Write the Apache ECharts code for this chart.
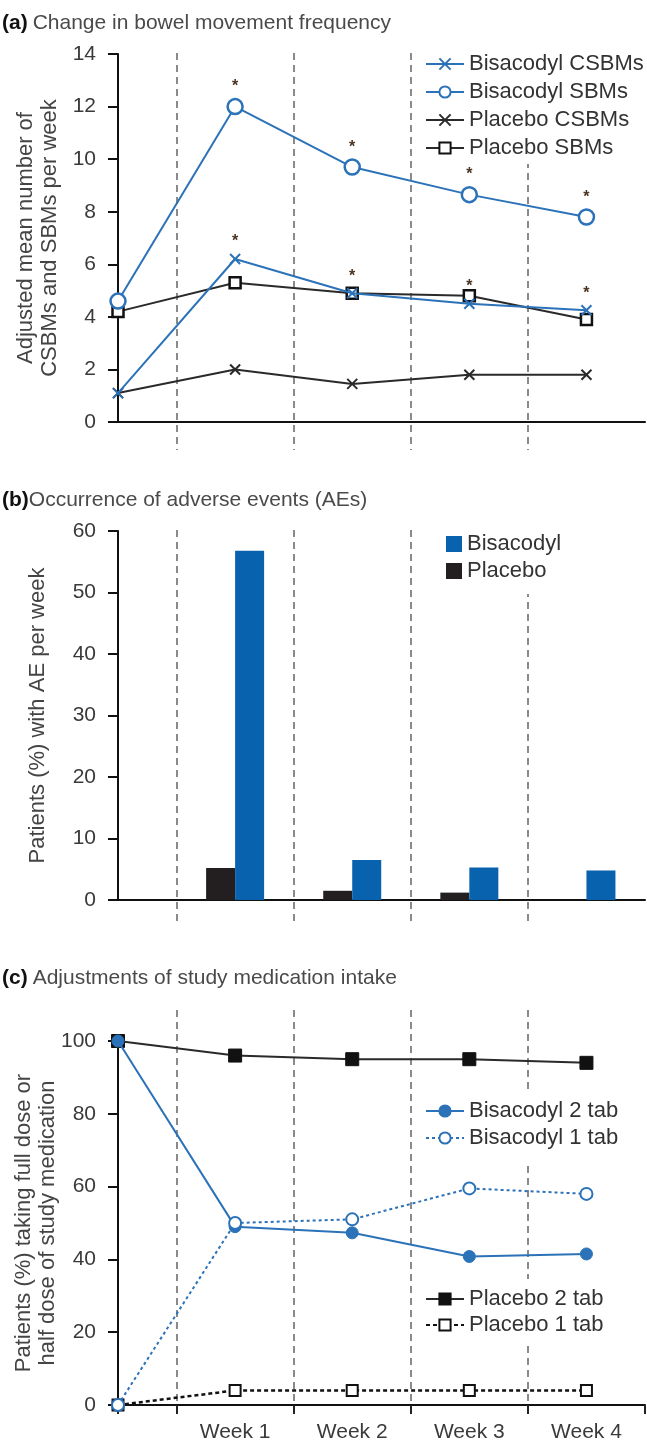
<!DOCTYPE html>
<html><head><meta charset="utf-8">
<script src="https://cdn.jsdelivr.net/npm/echarts@6/dist/echarts.min.js"></script>
<style>html,body{margin:0;padding:0;background:#fff}#c{width:647px;height:1443px}</style>
</head><body><div id="c"></div>
<script>
// ---------- data ----------
const weekLabels = ['', 'Week 1', 'Week 2', 'Week 3', 'Week 4'];
// panel (a)
const bisCSBM = [1.1, 6.2, 4.9, 4.5, 4.25];
const bisSBM  = [4.6, 12.0, 9.7, 8.65, 7.8];
const plaCSBM = [1.1, 2.0, 1.45, 1.8, 1.8];
const plaSBM  = [4.2, 5.3, 4.9, 4.8, 3.9];
const sigA    = [false, true, true, true, true];
// panel (b)
const aeWeeks = [1, 2, 3, 4];
const aeBis   = [56.8, 6.5, 5.3, 4.8];
const aePla   = [5.2, 1.5, 1.2, 0];
// panel (c)
const bis2 = [100, 49, 47.3, 40.8, 41.5];
const bis1 = [0, 50, 51, 59.5, 58];
const pla2 = [100, 96, 95, 95, 94];
const pla1 = [0, 4, 4, 4, 4];

// ---------- styling ----------
const FONT = '"Liberation Sans", Arial, sans-serif';
const BLUE = '#2b72b8', BAR_BLUE = '#0862ad', BLACK = '#2a2a2a', BAR_BLACK = '#231f20';
const TXT = '#3a3a3a';
const crossPath = 'path://M0,0 L10,10 M10,0 L0,10';

const pts = arr => arr.map((v, i) => [i, v]);
const sigPts = (arr, sig) => arr.map((v, i) => ({ value: [i, v], label: { show: sig[i] } }));

const chart = echarts.init(document.getElementById('c'), null, { renderer: 'canvas' });

const L = 118, W = 527;
const G = (top, height) => ({ left: L, top: top, width: W, height: height, containLabel: false, outerBoundsMode: 'none' });
const grids = [
  G(54, 368),    // 0 a
  G(53, 397),    // 1 a dividers
  G(531, 369),   // 2 b
  G(530, 395),   // 3 b dividers
  G(1041, 364),  // 4 c
  G(1010, 395)   // 5 c dividers
];

function mainX(g, showLabels) {
  return {
    gridIndex: g, type: 'value', min: 0, max: 4.5, interval: 1,
    axisLine: { show: true, onZero: false, lineStyle: { color: '#111', width: 2 } },
    axisTick: { show: false },
    splitLine: { show: false },
    axisLabel: {
      show: showLabels, margin: 17, fontSize: 21, color: TXT, fontFamily: FONT,
      formatter: v => (Number.isInteger(v) ? (weekLabels[v] || '') : '')
    }
  };
}
function divX(g, ticks) {
  return {
    gridIndex: g, type: 'value', min: 0, max: 4.5, interval: 1, inverse: true,
    axisLine: { show: false },
    axisTick: { show: ticks, length: 9, lineStyle: { color: '#222', width: 2 } },
    axisLabel: { show: false },
    splitLine: { show: true, showMinLine: false, showMaxLine: false,
      lineStyle: { color: '#8a8a8a', width: 2, type: [7, 5] } }
  };
}
function mainY(g, max, interval, name, gap, nameFont) {
  return {
    gridIndex: g, type: 'value', min: 0, max: max, interval: interval,
    name: name, nameLocation: 'middle', nameGap: gap, nameRotate: 90, nameMoveOverlap: false,
    nameTextStyle: { fontSize: nameFont, color: '#444', fontFamily: FONT, lineHeight: nameFont + 2 },
    axisLine: { show: true, lineStyle: { color: '#111', width: 2 } },
    axisTick: { show: true, length: 10, lineStyle: { color: '#111', width: 2 } },
    splitLine: { show: false },
    axisLabel: { margin: 22, fontSize: 21, color: TXT, fontFamily: FONT }
  };
}
function divY(g) {
  return { gridIndex: g, type: 'value', min: 0, max: 1, show: false };
}

const titleRich = {
  b: { fontWeight: 'bold', fontSize: 21, color: '#111', fontFamily: FONT },
  t: { fontWeight: 'normal', fontSize: 21, color: '#4a4a4a', fontFamily: FONT }
};
const legendText = { fontSize: 22, color: '#333', fontFamily: FONT };

const starLabel = { position: 'top', distance: 3, formatter: '*', fontSize: 16, fontWeight: 'bold', color: '#4a3424', fontFamily: FONT };

const option = {
  animation: false,
  backgroundColor: '#fff',
  title: [
    { left: 2, top: 13, padding: 0, text: '{b|(a)} {t|Change in bowel movement frequency}', textStyle: { fontWeight: 'normal', rich: titleRich } },
    { left: 2, top: 490, padding: 0, text: '{b|(b)}{t|Occurrence of adverse events (AEs)}', textStyle: { fontWeight: 'normal', rich: titleRich } },
    { left: 2, top: 968, padding: 0, text: '{b|(c)} {t|Adjustments of study medication intake}', textStyle: { fontWeight: 'normal', rich: titleRich } }
  ],
  grid: grids,
  xAxis: [mainX(0, false), divX(1, false), mainX(2, false), divX(3, false), mainX(4, true), divX(5, true)],
  yAxis: [
    mainY(0, 14, 2, 'Adjusted mean number of\nCSBMs and SBMs per week', 56, 22), divY(1),
    mainY(2, 60, 10, 'Patients (%) with AE per week', 68, 22), divY(3),
    mainY(4, 100, 20, 'Patients (%) taking full dose or\nhalf dose of study medication', 58, 22), divY(5)
  ],
  legend: [
    { data: ['Bisacodyl CSBMs', 'Bisacodyl SBMs', 'Placebo CSBMs', 'Placebo SBMs'],
      orient: 'vertical', left: 415, top: 48, padding: [5, 10, 5, 10], itemGap: 6,
      itemWidth: 38, itemHeight: 14, backgroundColor: '#fff', textStyle: legendText },
    { data: ['Bisacodyl', 'Placebo'], icon: 'rect',
      orient: 'vertical', left: 436, top: 528, padding: [5, 10, 12, 10], itemGap: 5,
      itemWidth: 16, itemHeight: 16, backgroundColor: '#fff', textStyle: legendText },
    { data: ['Bisacodyl 2 tab', 'Bisacodyl 1 tab'],
      orient: 'vertical', left: 415, top: 1089, padding: [11, 10, 16, 10], itemGap: 5,
      itemWidth: 38, itemHeight: 14, backgroundColor: '#fff', textStyle: legendText },
    { data: ['Placebo 2 tab', 'Placebo 1 tab'],
      orient: 'vertical', left: 415, top: 1279, padding: [9, 10, 9, 10], itemGap: 4,
      itemWidth: 38, itemHeight: 14, backgroundColor: '#fff', textStyle: legendText }
  ],
  series: [
    // ----- panel a -----
    { name: 'Placebo CSBMs', type: 'line', xAxisIndex: 0, yAxisIndex: 0, data: pts(plaCSBM),
      symbol: crossPath, symbolSize: 10, z: 2,
      lineStyle: { color: BLACK, width: 2 },
      itemStyle: { color: BLACK, borderColor: BLACK, borderWidth: 2 } },
    { name: 'Placebo SBMs', type: 'line', xAxisIndex: 0, yAxisIndex: 0, data: pts(plaSBM),
      symbol: 'rect', symbolSize: 11, z: 2,
      lineStyle: { color: BLACK, width: 2 },
      itemStyle: { color: '#fff', borderColor: '#111', borderWidth: 2.5 } },
    { name: 'Bisacodyl CSBMs', type: 'line', xAxisIndex: 0, yAxisIndex: 0, data: sigPts(bisCSBM, sigA),
      symbol: crossPath, symbolSize: 10, z: 3,
      lineStyle: { color: BLUE, width: 2 },
      itemStyle: { color: BLUE, borderColor: BLUE, borderWidth: 2 },
      label: starLabel },
    { name: 'Bisacodyl SBMs', type: 'line', xAxisIndex: 0, yAxisIndex: 0, data: sigPts(bisSBM, sigA),
      symbol: 'circle', symbolSize: 15, z: 3,
      lineStyle: { color: BLUE, width: 2 },
      itemStyle: { color: '#fff', borderColor: BLUE, borderWidth: 2.5 },
      label: starLabel },
    // ----- panel b -----
    { name: 'Placebo', type: 'bar', xAxisIndex: 2, yAxisIndex: 2,
      data: aeWeeks.map((w, i) => [w, aePla[i]]),
      barWidth: 29, barGap: '0%', itemStyle: { color: BAR_BLACK } },
    { name: 'Bisacodyl', type: 'bar', xAxisIndex: 2, yAxisIndex: 2,
      data: aeWeeks.map((w, i) => [w, aeBis[i]]),
      barWidth: 29, barGap: '0%', itemStyle: { color: BAR_BLUE } },
    // ----- panel c -----
    { name: 'Placebo 2 tab', type: 'line', xAxisIndex: 4, yAxisIndex: 4, data: pts(pla2),
      symbol: 'rect', symbolSize: 13, z: 2,
      lineStyle: { color: BLACK, width: 2 },
      itemStyle: { color: '#111', borderColor: '#111', borderWidth: 1 } },
    { name: 'Placebo 1 tab', type: 'line', xAxisIndex: 4, yAxisIndex: 4, data: pts(pla1),
      symbol: 'rect', symbolSize: 11, z: 2,
      lineStyle: { color: '#111', width: 2.5, type: [4, 3] },
      itemStyle: { color: '#fff', borderColor: '#111', borderWidth: 2 } },
    { name: 'Bisacodyl 2 tab', type: 'line', xAxisIndex: 4, yAxisIndex: 4, data: pts(bis2),
      symbol: 'circle', symbolSize: 12, z: 3,
      lineStyle: { color: BLUE, width: 2 },
      itemStyle: { color: BLUE, borderColor: BLUE, borderWidth: 1 } },
    { name: 'Bisacodyl 1 tab', type: 'line', xAxisIndex: 4, yAxisIndex: 4, data: pts(bis1),
      symbol: 'circle', symbolSize: 12, z: 3,
      lineStyle: { color: BLUE, width: 2, type: [3, 3] },
      itemStyle: { color: '#fff', borderColor: BLUE, borderWidth: 2 } }
  ]
};
chart.setOption(option);
</script>
</body></html>
